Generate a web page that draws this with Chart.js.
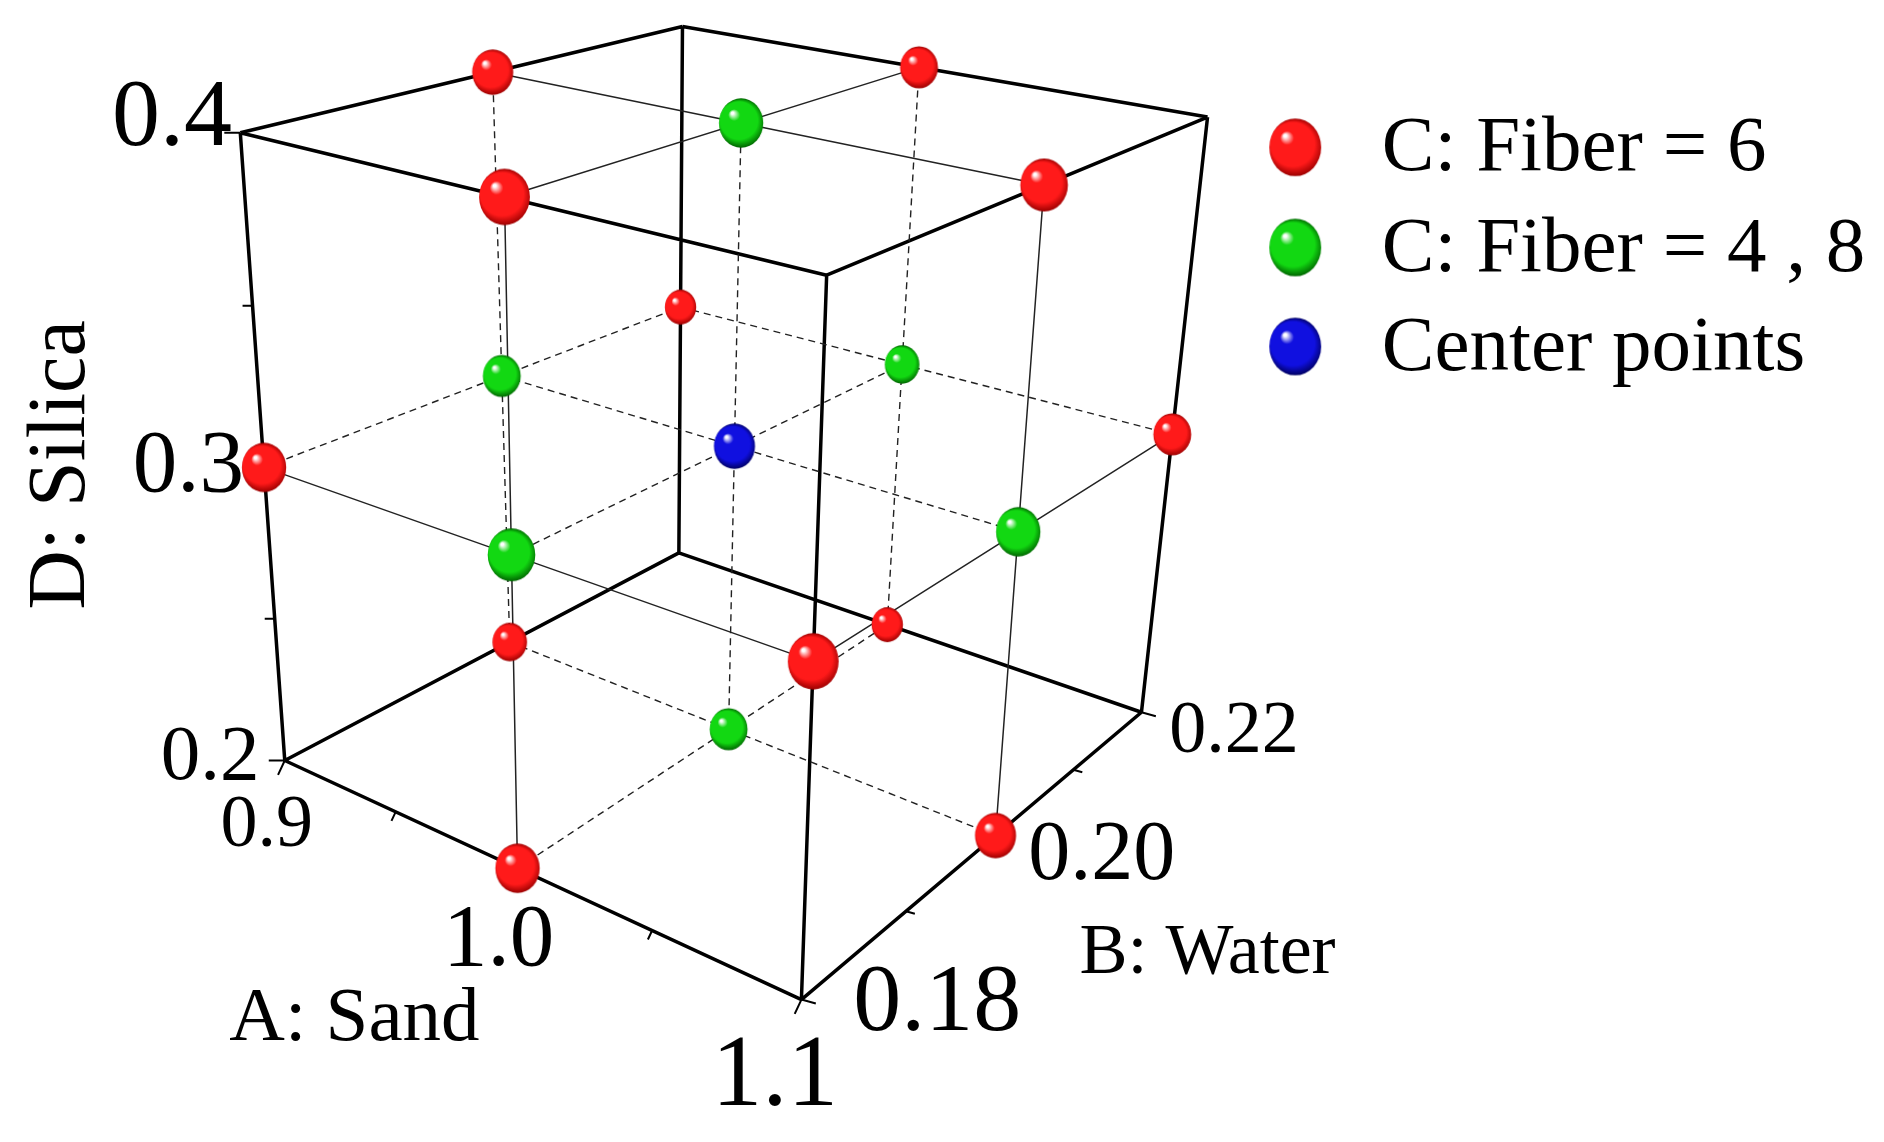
<!DOCTYPE html>
<html><head><meta charset="utf-8">
<script src="https://cdn.jsdelivr.net/npm/chart.js@4/dist/chart.umd.min.js"></script>
<style>html,body{margin:0;padding:0;background:#fff}canvas{display:block}</style>
</head><body>
<canvas id="c" width="1884" height="1142"></canvas>
<script>
// ---- data ----
const sandLevels = [0.9, 1.0, 1.1];      // A
const waterLevels = [0.18, 0.20, 0.22];  // B
const silicaLevels = [0.2, 0.3, 0.4];    // D
const sandTicks = ['0.9', '1.0', '1.1'];
const waterTicks = ['0.18', '0.20', '0.22'];
const silicaTicks = ['0.2', '0.3', '0.4'];
// C: Fiber = 6 (edge midpoints)
const fiber6A = [1.0, 1.0, 0.9, 1.1, 1.0, 1.0, 0.9, 1.1, 0.9, 1.1, 1.1, 0.9];
const fiber6B = [0.18, 0.22, 0.20, 0.20, 0.18, 0.22, 0.20, 0.20, 0.18, 0.18, 0.22, 0.22];
const fiber6D = [0.4, 0.4, 0.4, 0.4, 0.2, 0.2, 0.2, 0.2, 0.3, 0.3, 0.3, 0.3];
// C: Fiber = 4, 8 (face centers)
const fiber48A = [1.0, 1.0, 0.9, 1.1, 1.0, 1.0];
const fiber48B = [0.20, 0.20, 0.20, 0.20, 0.18, 0.22];
const fiber48D = [0.4, 0.2, 0.3, 0.3, 0.3, 0.3];
// center points
const centerA = [1.0], centerB = [0.20], centerD = [0.3];
const legendLabels = ['C: Fiber = 6', 'C: Fiber = 4 , 8', 'Center points'];

// ---- projection (oblique view of the cube) ----
const SX = 1884 / 1568, SY = 1142 / 946;
const corner = {
  '000': [237, 630], '100': [667, 828], '110': [950, 590], '010': [565, 458],
  '001': [200, 110], '101': [688, 228], '111': [1005, 97], '011': [568, 22]
};
function warp(t, r) { return t * r / ((1 - t) + t * r); }
function norm(A, B, D) {
  return [(A - 0.9) / 0.2, (B - 0.18) / 0.04, (D - 0.2) / 0.2];
}
function proj(A, B, D) {
  let [a, b, d] = norm(A, B, D);
  a = warp(a, 0.82); b = warp(b, 1.33); d = warp(d, 0.876);
  let x = 0, y = 0;
  for (const i of [0, 1]) for (const j of [0, 1]) for (const k of [0, 1]) {
    const w = (i ? a : 1 - a) * (j ? b : 1 - b) * (k ? d : 1 - d);
    const c = corner['' + i + j + k];
    x += w * c[0]; y += w * c[1];
  }
  return { x: x * SX, y: y * SY };
}
function radiusOf(A, B, D) {
  const [a, b, d] = norm(A, B, D);
  return (13 + 6 * (1 - b) + 3 * a + 3 * d) * SX;
}

// ---- sphere sprites ----
function sphere(r, base, dark) {
  const c = document.createElement('canvas');
  const s = Math.ceil(2 * r + 2);
  c.width = s; c.height = s;
  const g = c.getContext('2d');
  const cx = s / 2, cy = s / 2;
  const grd = g.createRadialGradient(cx - 0.35 * r, cy - 0.4 * r, r * 0.05, cx, cy, r);
  grd.addColorStop(0, '#ffffff');
  grd.addColorStop(0.2, base);
  grd.addColorStop(0.75, base);
  grd.addColorStop(1, dark);
  g.fillStyle = grd;
  g.beginPath(); g.ellipse(cx, cy, r * 0.9, r, 0, 0, Math.PI * 2); g.fill();
  return c;
}
const COLORS = [['#ff1a1a', '#9a0000'], ['#12d812', '#006400'], ['#1010e0', '#000060']];

function pointsDataset(As, Bs, Ds, ci) {
  const pts = As.map((A, i) => proj(A, Bs[i], Ds[i]));
  const rs = As.map((A, i) => radiusOf(A, Bs[i], Ds[i]));
  const sprites = rs.map(r => sphere(r, COLORS[ci][0], COLORS[ci][1]));
  return {
    data: pts, showLine: false, order: 0,
    pointStyle: sprites,
    pointRadius: rs,
    pointHoverRadius: rs
  };
}

// ---- line segments ----
const lo = [sandLevels[0], waterLevels[0], silicaLevels[0]];
const hi = [sandLevels[2], waterLevels[2], silicaLevels[2]];
const mid = [sandLevels[1], waterLevels[1], silicaLevels[1]];
const GAP = { x: NaN, y: NaN };
function P(v) { return proj(v[0], v[1], v[2]); }
const edges = [], solidGrid = [], dashGrid = [], ticks = [];
const L = [lo, hi];
for (let ax = 0; ax < 3; ax++) {
  const o1 = (ax + 1) % 3, o2 = (ax + 2) % 3;
  for (const s1 of [0, 1]) for (const s2 of [0, 1]) {
    const p = [0, 0, 0], q = [0, 0, 0];
    p[ax] = lo[ax]; q[ax] = hi[ax];
    p[o1] = q[o1] = L[s1][o1]; p[o2] = q[o2] = L[s2][o2];
    edges.push(P(p), P(q), GAP);
  }
}
for (let fx = 0; fx < 3; fx++) for (const s of [0, 1]) {
  const visible = (fx === 1 && s === 0) || (fx === 0 && s === 1) || (fx === 2 && s === 1);
  const target = visible ? solidGrid : dashGrid;
  const others = [0, 1, 2].filter(k => k !== fx);
  for (const run of others) {
    const fixed = others.find(k => k !== run);
    const p = [0, 0, 0], q = [0, 0, 0];
    p[fx] = q[fx] = L[s][fx];
    p[fixed] = q[fixed] = mid[fixed];
    p[run] = lo[run]; q[run] = hi[run];
    target.push(P(p), P(q), GAP);
  }
}
for (let ax = 0; ax < 3; ax++) {
  const p = mid.slice(), q = mid.slice();
  p[ax] = lo[ax]; q[ax] = hi[ax];
  dashGrid.push(P(p), P(q), GAP);
}
function tick(v, dx, dy, len) {
  const a = P(v);
  ticks.push(a, { x: a.x + dx * len, y: a.y + dy * len }, GAP);
}
for (let t = 0; t <= 4; t++) {
  const len = t % 2 === 0 ? 16 : 10;
  tick([lo[0] + t * 0.05, lo[1], lo[2]], -0.42, 0.9, len);
  tick([hi[0], lo[1] + t * 0.01, lo[2]], 0.9, 0.25, len);
  tick([lo[0], lo[1], lo[2] + t * 0.05], -1, 0, len);
}

const lineDS = (data, w, dash, col) => ({
  data, showLine: true, spanGaps: false, pointRadius: 0, pointHoverRadius: 0,
  borderColor: col, borderWidth: w, borderDash: dash, order: 5, tension: 0
});

// ---- text plugin ----
const textPlugin = {
  id: 'texts',
  afterDraw(chart) {
    const g = chart.ctx;
    g.save();
    g.fillStyle = '#000';
    const F = s => `${Math.round(s * SX)}px "Liberation Serif", "Times New Roman", serif`;
    const put = (t, x, y, s, align) => {
      g.font = F(s); g.textAlign = align || 'center'; g.textBaseline = 'middle';
      g.fillText(t, x * SX, y * SY);
    };
    put(silicaTicks[2], 193, 99, 80, 'right');
    put(silicaTicks[1], 203, 387, 74, 'right');
    put(silicaTicks[0], 216, 628, 66, 'right');
    put(sandTicks[0], 222, 685, 62);
    put(sandTicks[1], 415, 780, 74);
    put(sandTicks[2], 645, 893, 84);
    put(waterTicks[2], 1027, 607, 62);
    put(waterTicks[1], 917, 710, 70);
    put(waterTicks[0], 780, 832, 80);
    put('A: Sand', 295, 845, 64);
    put('B: Water', 1005, 790, 60);
    g.save();
    g.translate(52 * SX, 385 * SY); g.rotate(-Math.PI / 2);
    g.font = F(68); g.textAlign = 'center'; g.textBaseline = 'middle';
    g.fillText('D: Silica', 0, 0);
    g.restore();
    legendLabels.forEach((lab, i) => {
      const cy = [122, 205, 287][i];
      const sp = sphere(24 * SX, COLORS[i][0], COLORS[i][1]);
      g.drawImage(sp, 1078 * SX - sp.width / 2, cy * SY - sp.height / 2);
      put(lab, 1150, cy + 2, 66, 'left');
    });
    g.restore();
  }
};

new Chart(document.getElementById('c'), {
  type: 'scatter',
  data: {
    datasets: [
      lineDS(dashGrid, 1.4, [7, 5], '#222'),
      lineDS(solidGrid, 1.5, [], '#222'),
      lineDS(ticks, 2, [], '#000'),
      lineDS(edges, 3.5, [], '#000'),
      pointsDataset(centerA, centerB, centerD, 2),
      pointsDataset(fiber48A, fiber48B, fiber48D, 1),
      pointsDataset(fiber6A, fiber6B, fiber6D, 0)
    ]
  },
  options: {
    responsive: false, animation: false, devicePixelRatio: 1,
    layout: { padding: 0, autoPadding: false },
    plugins: { legend: { display: false }, tooltip: { enabled: false } },
    scales: {
      x: { type: 'linear', min: 0, max: 1884, display: false },
      y: { type: 'linear', min: 0, max: 1142, reverse: true, display: false }
    },
    datasets: { scatter: { clip: false } }
  },
  plugins: [textPlugin]
});
</script>
</body></html>
